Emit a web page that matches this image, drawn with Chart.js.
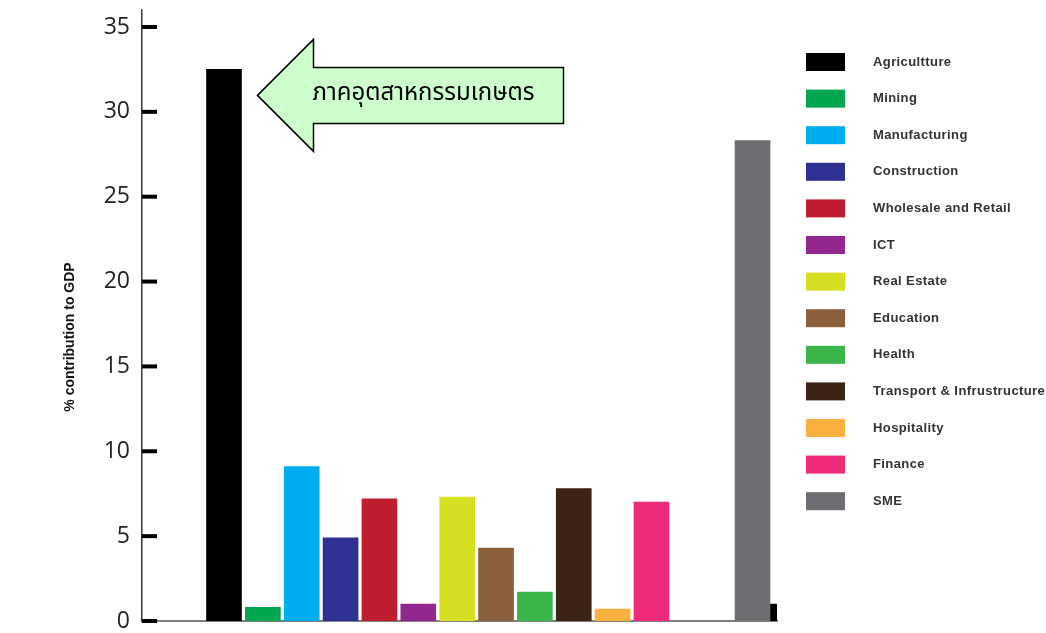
<!DOCTYPE html>
<html>
<head>
<meta charset="utf-8">
<script src="https://cdn.jsdelivr.net/npm/chart.js@4"></script>
<style>
  html, body { margin: 0; padding: 0; background: #fff; }
  #wrap { width: 1046px; height: 633px; }
</style>
</head>
<body>
<div id="wrap"><canvas id="myChart"></canvas></div>
<script>
const categories = ['Agricultture', 'Mining', 'Manufacturing', 'Construction', 'Wholesale and Retail', 'ICT',
    'Real Estate', 'Education', 'Health', 'Transport & Infrustructure', 'Hospitality', 'Finance', 'SME'];
const values = [32.5, 0.8, 9.1, 4.9, 7.2, 1.0, 7.3, 4.3, 1.7, 7.8, 0.7, 7.0, 28.3];
const colors = ['#000000', '#00a650', '#00aeef', '#2e3192', '#be1e2d', '#92278f',
    '#d7df23', '#8b5e3c', '#39b54a', '#3c2415', '#fbb040', '#ee2a7b', '#6d6e71'];
const yTicks = [0, 5, 10, 15, 20, 25, 30, 35];
// a bar that is cut off at the right end of the axis
const cutValues = [1.0];
const yTitle = '% contribution to GDP';
const arrowText = 'ภาคอุตสาหกรรมเกษตร';

// slot positions: SME sits after a gap
const slot = (i) => i < 12 ? i : i + 1.6;

const extras = {
    id: 'extras',
    afterDraw: (chart) => {
        const ctx = chart.ctx;
        const ys = chart.scales.y;
        const area = chart.chartArea;
        ctx.save();

        // tick marks inside the plot
        ctx.fillStyle = '#000';
        yTicks.forEach(v => {
            const y = ys.getPixelForValue(v);
            ctx.fillRect(area.left, y - 2, 15, 4);
        });

        // y title
        ctx.save();
        ctx.translate(70, 337);
        ctx.rotate(-Math.PI / 2);
        ctx.font = 'bold 14px "Liberation Sans", Arial, sans-serif';
        ctx.fillStyle = '#111';
        ctx.textAlign = 'center';
        ctx.textBaseline = 'middle';
        ctx.fillText(yTitle, 0, 0);
        ctx.restore();

        // arrow pointing at agriculture bar
        const bar = chart.getDatasetMeta(0).data[0];
        const tx = bar.x + bar.width / 2 + 16;
        const ty = bar.y + 26;
        ctx.beginPath();
        ctx.moveTo(tx, ty);
        ctx.lineTo(tx + 56, ty - 56);
        ctx.lineTo(tx + 56, ty - 28);
        ctx.lineTo(tx + 306, ty - 28);
        ctx.lineTo(tx + 306, ty + 28);
        ctx.lineTo(tx + 56, ty + 28);
        ctx.lineTo(tx + 56, ty + 56);
        ctx.closePath();
        ctx.fillStyle = '#ccffcc';
        ctx.fill();
        ctx.lineWidth = 1.5;
        ctx.strokeStyle = '#000';
        ctx.stroke();
        ctx.fillStyle = '#000';
        ctx.font = '24px "Noto Sans Thai", Tahoma, "DejaVu Sans", sans-serif';
        ctx.textAlign = 'center';
        ctx.textBaseline = 'middle';
        ctx.fillText(arrowText, tx + 166, ty);

        // legend
        ctx.font = 'bold 13px "Liberation Sans", Arial, sans-serif';
        ctx.textAlign = 'left';
        ctx.letterSpacing = '0.4px';
        categories.forEach((c, i) => {
            const y0 = 53 + i * 36.6;
            ctx.fillStyle = colors[i];
            ctx.fillRect(806, y0, 39, 18);
            ctx.fillStyle = '#333';
            ctx.fillText(c, 873, y0 + 9);
        });
        ctx.restore();
    }
};

new Chart(document.getElementById('myChart'), {
    type: 'bar',
    data: {
        datasets: [{
            data: categories.map((c, i) => ({x: slot(i), y: values[i]})),
            backgroundColor: colors,
            barThickness: 35,
            stack: 'all'
        }, {
            data: cutValues.map(v => ({x: 14.5, y: v})),
            backgroundColor: '#000000',
            barThickness: 35,
            stack: 'all',
            clip: 0
        }]
    },
    options: {
        responsive: true,
        maintainAspectRatio: false,
        animation: false,
        layout: {padding: {left: 0, top: 10, right: 269, bottom: 0}},
        plugins: {legend: {display: false}, tooltip: {enabled: false}},
        scales: {
            x: {
                type: 'linear',
                offset: false,
                min: -2.11,
                max: 14.23,
                ticks: {display: false},
                grid: {display: false, drawTicks: false},
                border: {color: '#7f7f7f', width: 2},
                afterFit: (s) => { s.height = 12; s.paddingLeft = 0; s.paddingRight = 0; }
            },
            y: {
                min: 0,
                max: 36,
                afterBuildTicks: (s) => { s.ticks = yTicks.map(v => ({value: v})); },
                grid: {display: false, drawTicks: false},
                border: {color: '#3a3a3a', width: 1.5},
                ticks: {padding: 12, color: '#222', font: {family: 'Open Sans', size: 23}},
                afterFit: (s) => { s.width = 142; s.paddingTop = 0; s.paddingBottom = 0; }
            }
        }
    },
    plugins: [extras]
});
</script>
</body>
</html>
